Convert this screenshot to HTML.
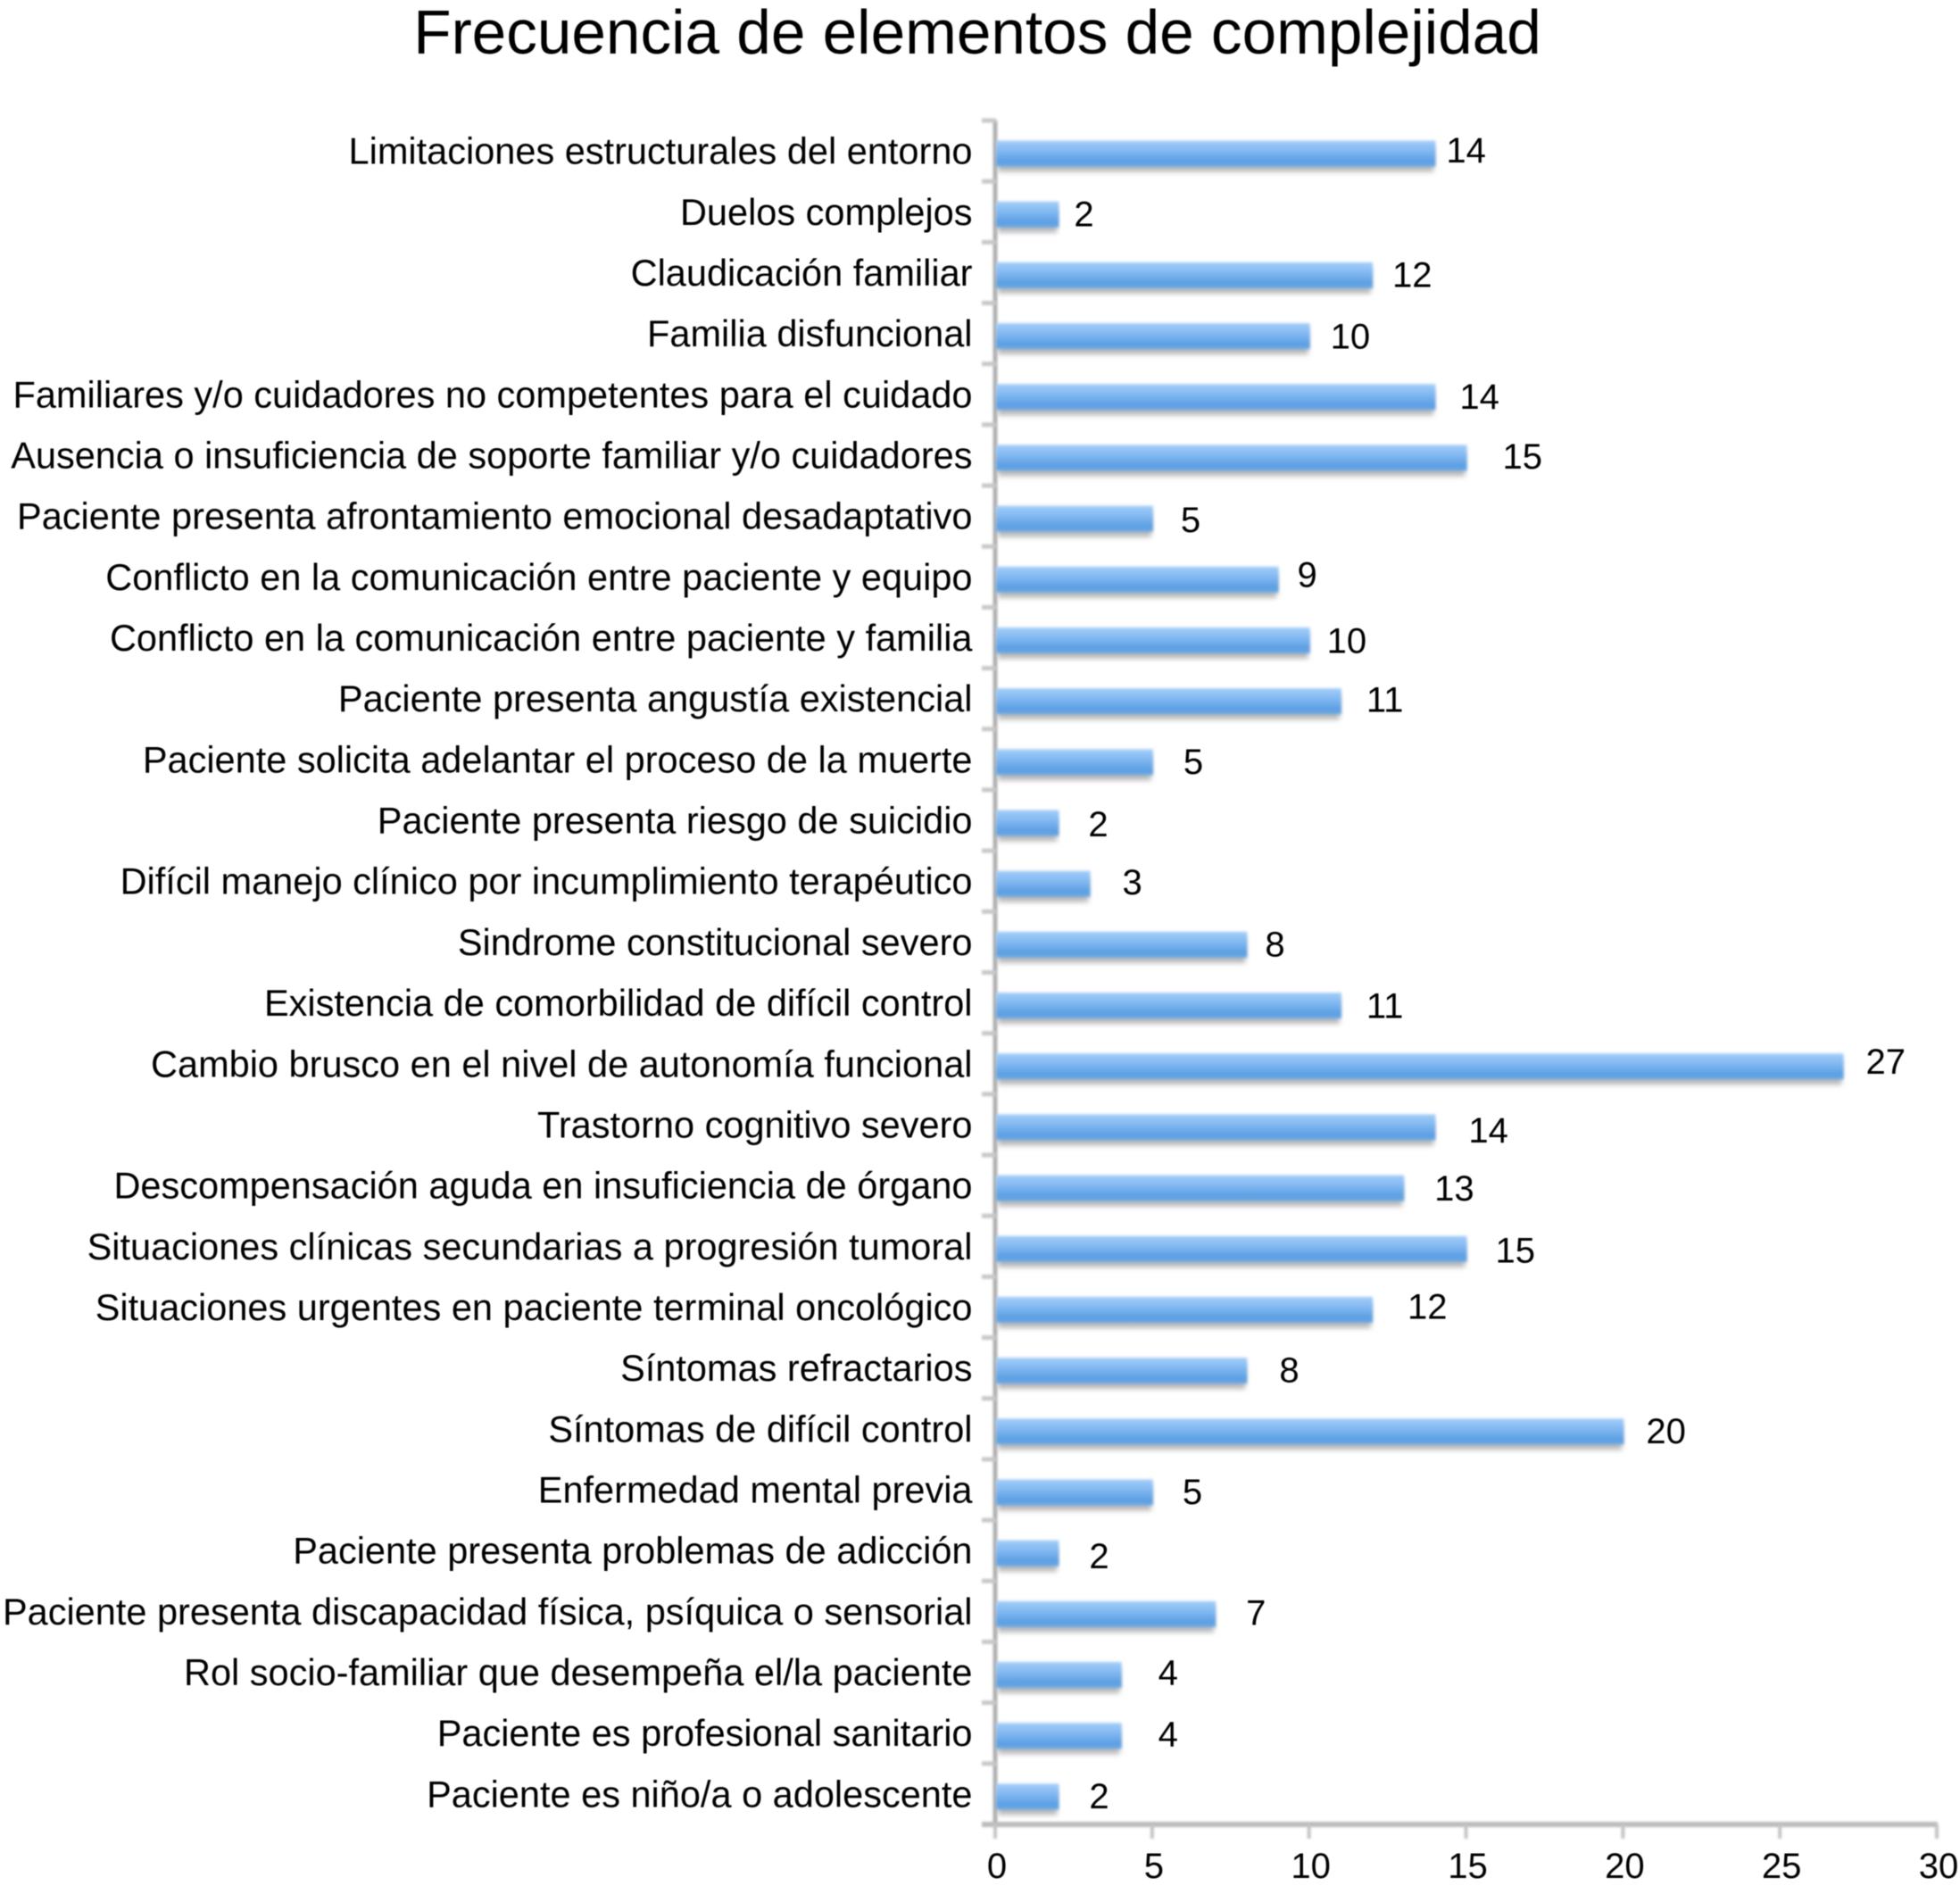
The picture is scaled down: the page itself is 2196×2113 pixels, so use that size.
<!DOCTYPE html>
<html lang="es">
<head>
<meta charset="utf-8">
<title>Frecuencia de elementos de complejidad</title>
<style>
html,body{margin:0;padding:0;background:#fff;}
body{width:2196px;height:2113px;overflow:hidden;}
svg{display:block;}
text{font-family:"Liberation Sans",Arial,sans-serif;fill:#000;}
</style>
</head>
<body>
<svg id="chart" xmlns="http://www.w3.org/2000/svg" width="2196" height="2113" viewBox="0 0 2196 2113">
  <defs>
    <linearGradient id="barFill" x1="0" y1="0" x2="0" y2="1">
      <stop offset="0" stop-color="#a3cdf8"/>
      <stop offset="0.35" stop-color="#86bbf3"/>
      <stop offset="0.8" stop-color="#5c9fe2"/>
      <stop offset="1" stop-color="#6aa8e6"/>
    </linearGradient>
    <filter id="soft" x="-5%" y="-30%" width="110%" height="160%"><feGaussianBlur stdDeviation="1.6"/></filter>
    <filter id="shadowBlur" x="-5%" y="-50%" width="110%" height="200%"><feGaussianBlur stdDeviation="3"/></filter>
    <filter id="lineBlur" filterUnits="userSpaceOnUse" x="0" y="0" width="2196" height="2113"><feGaussianBlur stdDeviation="1.4"/></filter>
    <filter id="textBlur" filterUnits="userSpaceOnUse" x="0" y="0" width="2196" height="2113"><feGaussianBlur stdDeviation="0.5"/></filter>
  </defs>
  <text x="1095" y="60" text-anchor="middle" font-size="69.3" filter="url(#textBlur)">Frecuencia de elementos de complejidad</text>
  <g id="axes" filter="url(#lineBlur)"></g>
  <g id="bars"></g>
  <g id="labels" filter="url(#textBlur)"></g>
  <g id="values" filter="url(#textBlur)"></g>
  <g id="xticks" filter="url(#textBlur)"></g>
</svg>
<script>
const categories = [
  "Limitaciones estructurales del entorno",
  "Duelos complejos",
  "Claudicación familiar",
  "Familia disfuncional",
  "Familiares y/o cuidadores no competentes para el cuidado",
  "Ausencia o insuficiencia de soporte familiar y/o cuidadores",
  "Paciente presenta afrontamiento emocional desadaptativo",
  "Conflicto en la comunicación entre paciente y equipo",
  "Conflicto en la comunicación entre paciente y familia",
  "Paciente presenta angustía existencial",
  "Paciente solicita adelantar el proceso de la muerte",
  "Paciente presenta riesgo de suicidio",
  "Difícil manejo clínico por incumplimiento terapéutico",
  "Sindrome constitucional severo",
  "Existencia de comorbilidad de difícil control",
  "Cambio brusco en el nivel de autonomía funcional",
  "Trastorno cognitivo severo",
  "Descompensación aguda en insuficiencia de órgano",
  "Situaciones clínicas secundarias a progresión tumoral",
  "Situaciones urgentes en paciente terminal oncológico",
  "Síntomas refractarios",
  "Síntomas de difícil control",
  "Enfermedad mental previa",
  "Paciente presenta problemas de adicción",
  "Paciente presenta discapacidad física, psíquica o sensorial",
  "Rol socio-familiar que desempeña el/la paciente",
  "Paciente es profesional sanitario",
  "Paciente es niño/a o adolescente"
];
const frequencies = [14,2,12,10,14,15,5,9,10,11,5,2,3,8,11,27,14,13,15,12,8,20,5,2,7,4,4,2];
const xTickValues = [0,5,10,15,20,25,30];
const valueLabelGapX = [12,17,22,23,27,40,31,21,19,28,34,33,36,20,28,25,37,34,32,39,36,25,33,34,34,41,41,34];
const valueLabelShiftY = [-3,0,0,1,0,-1,2,-5,1,-1,0,2,-1,0,1,-5,4,1,2,-3,0,0,0,4,-1,-2,-1,0];

const NS = "http://www.w3.org/2000/svg";
const X0 = 1116, X1 = 2171, DOMAIN_MAX = 30;
const TOP = 135, BOTTOM = 2044, BAR_H = 29;
const xScale = v => X0 + (v / DOMAIN_MAX) * (X1 - X0);
const step = (BOTTOM - TOP) / categories.length;
const yCenter = i => TOP + (i + 0.5) * step + 3;
const tickY = i => TOP + i * step;

function make(tag, attrs, parent) {
  const el = document.createElementNS(NS, tag);
  for (const k in attrs) el.setAttribute(k, attrs[k]);
  parent.appendChild(el);
  return el;
}

const axes = document.getElementById("axes");
const bars = document.getElementById("bars");
const labels = document.getElementById("labels");
const values = document.getElementById("values");
const xticks = document.getElementById("xticks");

const yAxis = make("line", {x1:X0 - 1,y1:TOP,x2:X0 - 1,y2:BOTTOM,stroke:"#b0b0b0","stroke-width":5}, axes);



const xAxis = make("line", {x1:1100,y1:BOTTOM,x2:X1,y2:BOTTOM,stroke:"#bcbcbc","stroke-width":6}, axes);



for (let i = 0; i < categories.length; i++) {
  const t = make("line", {x1:1100,y1:tickY(i),x2:X0,y2:tickY(i),stroke:"#c8c8c8","stroke-width":5}, axes);
  
  
}

xTickValues.forEach(v => {
  const x = xScale(v) - 1;
  const t = make("line", {x1:x,y1:BOTTOM,x2:x,y2:2060,stroke:"#c4c4c4","stroke-width":4}, axes);
  
  
  const lab = make("text", {x:x + 2,y:2104,"text-anchor":"middle","font-size":40}, xticks);
  
  
  lab.textContent = v;
});

categories.forEach((name, i) => {
  const cy = yCenter(i);
  const w = xScale(frequencies[i]) - X0;

  const shadow = make("rect", {x:X0 + 2,y:cy - BAR_H / 2 + 6,width:Math.max(w - 4, 0),height:BAR_H,fill:"#b9b9b9",filter:"url(#shadowBlur)"}, bars);
  
  

  const bar = make("rect", {x:X0,y:cy - BAR_H / 2,width:w,height:BAR_H,fill:"url(#barFill)",filter:"url(#soft)"}, bars);
  
  

  const lab = make("text", {x:1089.5,y:cy + 11.5,"text-anchor":"end","font-size":41.5}, labels);
  
  
  lab.textContent = name;

  const val = make("text", {x:xScale(frequencies[i]) + valueLabelGapX[i],y:cy + 13 + valueLabelShiftY[i],"font-size":40}, values);
  
  
  val.textContent = frequencies[i];
});
</script>
</body>
</html>
